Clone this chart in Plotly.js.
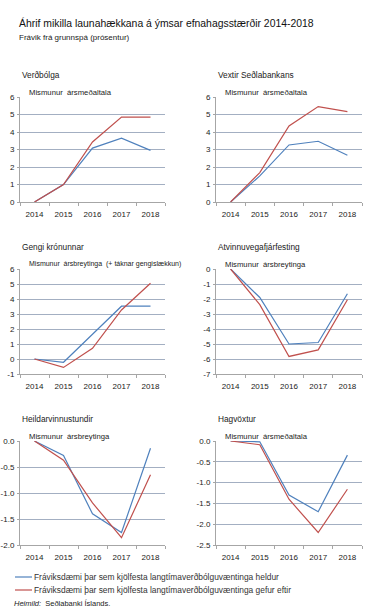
<!DOCTYPE html>
<html><head><meta charset="utf-8">
<script src="https://cdn.plot.ly/plotly-3.0.1.min.js"></script>
<style>body{margin:0;padding:0;background:#fff}#c{width:390px;height:612px}</style>
</head><body><div id="c"></div>
<script>
const years = ['2014','2015','2016','2017','2018'];
const panelTitles = ['Verðbólga','Vextir Seðlabankans','Gengi krónunnar','Atvinnuvegafjárfesting','Heildarvinnustundir','Hagvöxtur'];
const panelSubtitles = ['Mismunur  ársmeðaltala','Mismunur  ársmeðaltala','Mismunur  ársbreytinga  (+ táknar gengislækkun)','Mismunur  ársbreytinga','Mismunur  ársbreytinga','Mismunur  ársmeðaltala'];
const seriesNames = ['Fráviksdæmi þar sem kjölfesta langtímaverðbólguvæntinga heldur','Fráviksdæmi þar sem kjölfesta langtímaverðbólguvæntinga gefur eftir'];
// blue = heldur, red = gefur eftir
const verdbolgaBlue = [0, 1.0, 3.08, 3.65, 2.95];
const verdbolgaRed  = [0, 1.0, 3.43, 4.85, 4.85];
const vextirBlue = [0, 1.49, 3.26, 3.47, 2.67];
const vextirRed  = [0, 1.68, 4.34, 5.45, 5.16];
const gengiBlue = [0, -0.22, 1.65, 3.52, 3.52];
const gengiRed  = [0, -0.56, 0.71, 3.27, 5.05];
const fjarfestingBlue = [0, -1.9, -5.0, -4.9, -1.65];
const fjarfestingRed  = [0, -2.38, -5.83, -5.39, -2.05];
const vinnustundirBlue = [0, -0.28, -1.40, -1.76, -0.14];
const vinnustundirRed  = [0, -0.37, -1.19, -1.86, -0.65];
const hagvoxturBlue = [0, -0.02, -1.30, -1.70, -0.34];
const hagvoxturRed  = [0, -0.09, -1.40, -2.20, -1.16];
const yRanges = [[0,6],[0,6],[-1,6],[-7,0],[-2,0],[-2.5,0]];
const yDticks = [1,1,1,1,0.5,0.5];

const blueData = [verdbolgaBlue, vextirBlue, gengiBlue, fjarfestingBlue, vinnustundirBlue, hagvoxturBlue];
const redData = [verdbolgaRed, vextirRed, gengiRed, fjarfestingRed, vinnustundirRed, hagvoxturRed];

const W = 390, H = 612;
const BLUE = '#4f81bd', RED = '#c0504d';
const FONT = 'Liberation Sans, Arial, sans-serif';
const colX = [[20,165],[216,362]];
const rowY = [[97,202],[269,374],[441,545]];
const px = v => v / W, py = v => 1 - v / H;

const traces = [];
const layout = {
  width: W, height: H, margin: {l:0,r:0,t:0,b:0},
  paper_bgcolor: '#fff', plot_bgcolor: '#fff',
  font: {family: FONT, size: 8, color: '#222'},
  showlegend: false,
  annotations: [], shapes: []
};

function ticks(range, dt) {
  const vals = [], txt = [];
  const n = Math.round((range[1] - range[0]) / dt);
  for (let k = 0; k <= n; k++) {
    const v = range[0] + k * dt;
    vals.push(v);
    txt.push(dt < 1 ? v.toFixed(1) : String(Math.round(v)));
  }
  return {vals, txt};
}

for (let i = 0; i < 6; i++) {
  const col = i % 2, row = Math.floor(i / 2);
  const n = i + 1;
  const xa = 'x' + (n === 1 ? '' : n), ya = 'y' + (n === 1 ? '' : n);
  traces.push({x: years, y: blueData[i], type: 'scatter', mode: 'lines', name: seriesNames[0], xaxis: xa, yaxis: ya, line: {color: BLUE, width: 1.2}, hoverinfo: 'none'});
  traces.push({x: years, y: redData[i], type: 'scatter', mode: 'lines', name: seriesNames[1], xaxis: xa, yaxis: ya, line: {color: RED, width: 1.2}, hoverinfo: 'none'});
  const xk = 'xaxis' + (n === 1 ? '' : n), yk = 'yaxis' + (n === 1 ? '' : n);
  const t = ticks(yRanges[i], yDticks[i]);
  layout[xk] = {domain: [px(colX[col][0]), px(colX[col][1])], anchor: ya, type: 'category', range: [-0.5, 4.5],
    showgrid: false, zeroline: false, showline: true, linecolor: '#a6a6a6', linewidth: 1,
    ticks: 'outside', tickson: 'boundaries', ticklen: 3, tickcolor: '#a6a6a6', ticklabelstandoff: 4,
    tickfont: {size: 8, color: '#222'}, fixedrange: true};
  layout[yk] = {domain: [py(rowY[row][1]), py(rowY[row][0])], anchor: xa, range: yRanges[i],
    tickmode: 'array', tickvals: t.vals, ticktext: t.txt,
    showgrid: true, gridcolor: '#a3afc2', gridwidth: 1, zeroline: false, showline: true, linecolor: '#a6a6a6', linewidth: 1,
    ticks: 'outside', ticklen: 2, tickcolor: '#a6a6a6', tickfont: {size: 8, color: '#222'}, ticklabelstandoff: 1, fixedrange: true};
  layout.annotations.push({text: panelTitles[i], xref: 'paper', yref: 'paper', x: px(colX[col][0]), y: py(rowY[row][0] - 22), xanchor: 'left', yanchor: 'middle', showarrow: false, font: {size: 8.3, color: '#222'}});
  layout.annotations.push({text: panelSubtitles[i], xref: 'paper', yref: 'paper', x: px(colX[col][0] + 7), y: py(rowY[row][0] - 5), xanchor: 'left', yanchor: 'middle', showarrow: false, font: {size: i === 2 ? 7 : 7.7, color: '#222'}});
}
layout.annotations.push({text: 'Áhrif mikilla launahækkana á ýmsar efnahagsstærðir 2014-2018', xref: 'paper', yref: 'paper', x: px(17), y: py(23), xanchor: 'left', yanchor: 'middle', showarrow: false, font: {size: 10.4, color: '#111'}});
layout.annotations.push({text: 'Frávik frá grunnspá (prósentur)', xref: 'paper', yref: 'paper', x: px(17), y: py(37), xanchor: 'left', yanchor: 'middle', showarrow: false, font: {size: 8, color: '#222'}});
layout.annotations.push({text: '<i>Heimild:</i>  Seðlabanki Íslands.', xref: 'paper', yref: 'paper', x: px(12), y: py(603), xanchor: 'left', yanchor: 'middle', showarrow: false, font: {size: 7.5, color: '#222'}});
// legend
const legY = [577, 590], legC = [BLUE, RED];
for (let k = 0; k < 2; k++) {
  layout.shapes.push({type: 'line', xref: 'paper', yref: 'paper', x0: px(15), x1: px(32), y0: py(legY[k]), y1: py(legY[k]), line: {color: legC[k], width: 1.2}});
  layout.annotations.push({text: seriesNames[k], xref: 'paper', yref: 'paper', x: px(32), y: py(legY[k]), xanchor: 'left', yanchor: 'middle', showarrow: false, font: {size: 8.4, color: '#333'}});
}

Plotly.newPlot('c', traces, layout, {staticPlot: true, displayModeBar: false});
</script></body></html>
